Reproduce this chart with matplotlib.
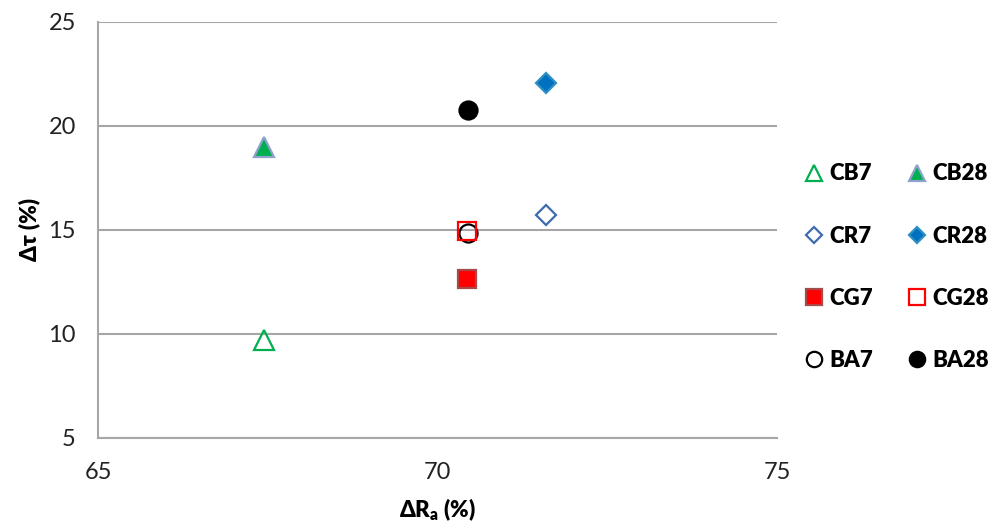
import matplotlib
matplotlib.use("Agg")
import matplotlib.pyplot as plt

plt.rcParams['font.family'] = ['Lato', 'DejaVu Sans']

# data
names = ['CB7', 'CR7', 'CG7', 'BA7', 'CB28', 'CR28', 'CG28', 'BA28']
delta_ra = [67.45, 71.6, 70.43, 70.45, 67.45, 71.6, 70.43, 70.45]
delta_tau = [9.7, 15.7, 12.65, 14.85, 19.0, 22.05, 14.95, 20.75]

# style per series: marker, face, edge, size
styles = {
    'CB7':  ('^', 'none',    '#00B050', 14),
    'CR7':  ('D', 'none',    '#3E6BB0', 10),
    'CG7':  ('s', '#FF0000', '#A84848', 13),
    'BA7':  ('o', 'none',    '#000000', 13),
    'CB28': ('^', '#00B050', '#8FA2CC', 14),
    'CR28': ('D', '#0070C0', '#2E8FC2', 10),
    'CG28': ('s', 'none',    '#FF0000', 13),
    'BA28': ('o', '#000000', '#000000', 13),
}

fig = plt.figure(figsize=(9.96, 5.30), dpi=100)
ax = fig.add_axes([0.0984, 0.1736, 0.682, 0.785])

grid_c = '#A6A6A6'
handles = []
for n, x, y in zip(names, delta_ra, delta_tau):
    m, fc, ec, ms = styles[n]
    h, = ax.plot([x], [y], linestyle='none', marker=m, markersize=ms,
                 markerfacecolor=fc, markeredgecolor=ec, markeredgewidth=1.6,
                 label=n, zorder=3)
    handles.append(h)

ax.set_xlim(65, 75)
ax.set_ylim(5, 25)
ax.set_xticks([65, 70, 75])
ax.set_yticks([5, 10, 15, 20, 25])
ax.yaxis.grid(True, color=grid_c, linewidth=1.5)
ax.set_axisbelow(True)
for s in ['top', 'right']:
    ax.spines[s].set_visible(False)
for s in ['left', 'bottom']:
    ax.spines[s].set_color(grid_c)
    ax.spines[s].set_linewidth(1.5)
ax.tick_params(axis='both', length=0, labelsize=17, colors='#222222')
ax.tick_params(axis='y', pad=16)
ax.tick_params(axis='x', pad=17)

ax.set_xlabel('ΔR$_\\mathregular{a}$ (%)', fontsize=16, fontweight='heavy', labelpad=10)
ax.set_ylabel('Δτ (%)', fontsize=16, fontweight='heavy', labelpad=6)

leg = fig.legend(handles=handles, labels=names, ncol=2, loc='center left',
                 bbox_to_anchor=(0.804, 0.496), frameon=False,
                 prop={'weight': 'heavy', 'size': 16}, handlelength=0.8,
                 handletextpad=0.3, columnspacing=1.55, labelspacing=1.85,
                 markerscale=0.85, borderaxespad=0, borderpad=0.2)

fig.savefig('out.png', dpi=100)
